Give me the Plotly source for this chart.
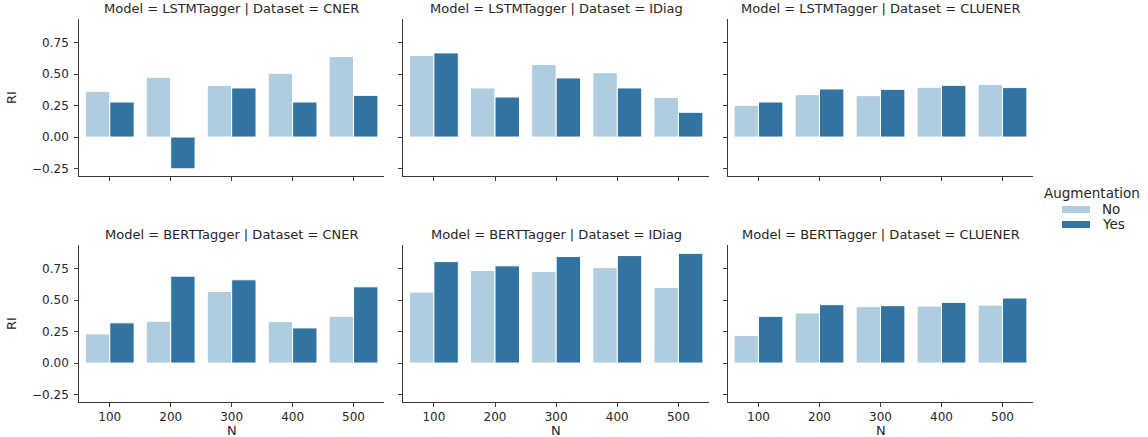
import plotly.graph_objects as go

N_labels = ["100", "200", "300", "400", "500"]
models = ["LSTMTagger", "BERTTagger"]
datasets = ["CNER", "IDiag", "CLUENER"]
aug_levels = ["No", "Yes"]

# RI values: [model][dataset] -> list over N
lstm_cner_no = [0.364, 0.476, 0.412, 0.508, 0.641]
lstm_cner_yes = [0.279, -0.253, 0.391, 0.279, 0.332]
lstm_idiag_no = [0.649, 0.391, 0.577, 0.513, 0.316]
lstm_idiag_yes = [0.670, 0.319, 0.471, 0.391, 0.197]
lstm_cluener_no = [0.253, 0.338, 0.330, 0.396, 0.418]
lstm_cluener_yes = [0.279, 0.383, 0.380, 0.412, 0.394]
bert_cner_no = [0.232, 0.333, 0.570, 0.330, 0.372]
bert_cner_yes = [0.320, 0.692, 0.663, 0.280, 0.607]
bert_idiag_no = [0.565, 0.737, 0.729, 0.760, 0.602]
bert_idiag_yes = [0.808, 0.774, 0.848, 0.856, 0.874]
bert_cluener_no = [0.219, 0.399, 0.449, 0.454, 0.462]
bert_cluener_yes = [0.372, 0.465, 0.457, 0.483, 0.518]

panels = [
    [(lstm_cner_no, lstm_cner_yes), (lstm_idiag_no, lstm_idiag_yes), (lstm_cluener_no, lstm_cluener_yes)],
    [(bert_cner_no, bert_cner_yes), (bert_idiag_no, bert_idiag_yes), (bert_cluener_no, bert_cluener_yes)],
]

y_ticks = [-0.25, 0.0, 0.25, 0.5, 0.75]
y_ticktext = ["\u22120.25", "0.00", "0.25", "0.50", "0.75"]

W, H = 1148, 437
col_px = [(79.3, 384.0), (403.3, 709.0), (728.0, 1033.0)]
row_px = [(19.0, 176.0), (245.0, 402.0)]

colors = {"No": "#b0cde0", "Yes": "#3274a1"}
txt = "#262626"
axc = "#3a3a3a"
FONT = "DejaVu Sans"
TICK = 12
TITLE = 13

fig = go.Figure()
layout = {}
annotations = []
shapes = []
for r in range(2):
    for c in range(3):
        idx = r * 3 + c + 1
        xa = "x" if idx == 1 else f"x{idx}"
        ya = "y" if idx == 1 else f"y{idx}"
        no_vals, yes_vals = panels[r][c]
        for name, vals in (("No", no_vals), ("Yes", yes_vals)):
            fig.add_trace(go.Bar(
                x=N_labels, y=vals, name=name,
                marker=dict(color=colors[name], line=dict(color="white", width=1)),
                xaxis=xa, yaxis=ya, showlegend=False, offsetgroup=name,
            ))
        x0, x1 = col_px[c]
        y0, y1 = row_px[r]
        dx = [x0 / W, x1 / W]
        dy = [1 - y1 / H, 1 - y0 / H]
        xkey = "xaxis" if idx == 1 else f"xaxis{idx}"
        ykey = "yaxis" if idx == 1 else f"yaxis{idx}"
        layout[xkey] = dict(
            domain=dx, anchor=ya, type="category", categoryarray=N_labels, range=[-0.5, 4.5],
            showline=True, linecolor=axc, linewidth=1.2, ticks="outside", ticklen=4, tickwidth=1.2,
            tickcolor=axc, showgrid=False, zeroline=False, showticklabels=(r == 1),
            tickfont=dict(family=FONT, size=TICK, color=txt), ticklabelstandoff=-1,
        )
        layout[ykey] = dict(
            domain=dy, anchor=xa, range=[-0.31, 0.94], tickvals=y_ticks, ticktext=y_ticktext,
            showline=True, linecolor=axc, linewidth=1.2, ticks="outside", ticklen=4, tickwidth=1.2,
            tickcolor=axc, showgrid=False, zeroline=False, showticklabels=(c == 0),
            tickfont=dict(family=FONT, size=TICK, color=txt), ticklabelstandoff=3,
        )
        annotations.append(dict(
            text=f"Model = {models[r]} | Dataset = {datasets[c]}", xref="paper", yref="paper",
            x=(dx[0] + dx[1]) / 2, y=dy[1], yshift=1, xanchor="center", yanchor="bottom",
            showarrow=False, font=dict(family=FONT, size=TITLE, color=txt),
        ))
        if r == 1:
            annotations.append(dict(
                text="N", xref="paper", yref="paper", x=(dx[0] + dx[1]) / 2, y=1 - 430.5 / H,
                xanchor="center", yanchor="middle", showarrow=False,
                font=dict(family=FONT, size=TITLE, color=txt),
            ))
        if c == 0:
            annotations.append(dict(
                text="RI", xref="paper", yref="paper", x=11.5 / W, y=(dy[0] + dy[1]) / 2,
                xanchor="center", yanchor="middle", textangle=-90, showarrow=False,
                font=dict(family=FONT, size=TITLE, color=txt),
            ))

# legend (title, swatches and labels)
annotations.append(dict(
    text="Augmentation", xref="paper", yref="paper", x=1042 / W, y=1 - 192.5 / H,
    xanchor="left", yanchor="middle", showarrow=False, font=dict(family=FONT, size=13.5, color=txt),
))
for i, name in enumerate(aug_levels):
    yc = 209.5 + 15 * i
    shapes.append(dict(
        type="rect", xref="paper", yref="paper", x0=1062 / W, x1=1090 / W,
        y0=1 - (yc + 3.5) / H, y1=1 - (yc - 3.5) / H, fillcolor=colors[name], line=dict(width=0),
    ))
    annotations.append(dict(
        text=name, xref="paper", yref="paper", x=1100 / W, y=1 - yc / H,
        xanchor="left", yanchor="middle", showarrow=False, font=dict(family=FONT, size=13.5, color=txt),
    ))

fig.update_layout(
    **layout,
    annotations=annotations,
    shapes=shapes,
    barmode="group", bargap=0.2, bargroupgap=0,
    width=W, height=H, margin=dict(l=0, r=0, t=0, b=0),
    paper_bgcolor="white", plot_bgcolor="white",
    font=dict(family=FONT, size=TICK, color=txt),
    showlegend=False,
)

fig.write_html(
    "out.html",
    config={"displayModeBar": False},
    post_script="document.body.style.margin='0';document.body.style.overflow='hidden';",
)
